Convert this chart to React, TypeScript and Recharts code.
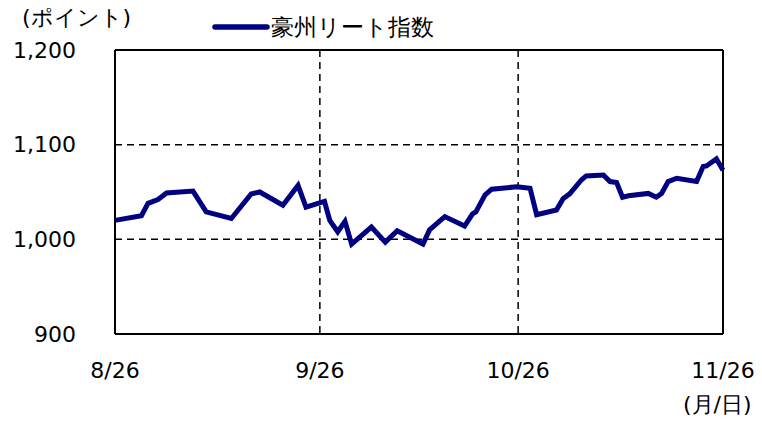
import React from 'react';
import { LineChart, Line, XAxis, YAxis, CartesianGrid, ReferenceLine } from 'recharts';

// day offset from 8/26
const dayOffsets = [0, 4, 5, 6.5, 7.8, 11.8, 13.8, 17.6, 20.6, 21.9, 25.4, 27.7, 28.9, 31.7, 32.5, 33.7, 34.8, 35.8, 38.8, 40.9, 42.7, 46.6, 47.6, 49.9, 52.9, 54.1, 54.6, 56, 57, 60.8, 62.8, 63.8, 66.8, 67.8, 68.8, 70.6, 71.3, 73.9, 74.9, 75.9, 76.8, 77.7, 80.7, 81.9, 82.7, 83.7, 85, 88, 89, 89.5, 91, 92];
const reitValues = [1020, 1025, 1038, 1042, 1049, 1051, 1029, 1022, 1048, 1050, 1036, 1057, 1034, 1040, 1020, 1008, 1019, 995, 1013, 997, 1009, 995, 1010, 1024, 1014, 1027, 1029, 1047, 1053, 1055.5, 1054, 1026, 1031, 1043, 1048, 1063, 1067, 1068, 1061, 1060, 1044.5, 1046, 1048.5, 1044.5, 1048.5, 1061, 1064.5, 1061, 1077, 1077.5, 1085, 1073];
const xTickDays = [0, 31, 61, 92];
const xTickLabels = ['8/26', '9/26', '10/26', '11/26'];
const yTicks = [900, 1000, 1100, 1200];
const seriesName = '豪州リート指数';

const data = dayOffsets.map((d, i) => ({ day: d, value: reitValues[i] }));
const font = '"DejaVu Sans", Verdana, sans-serif';

export default function App() {
  return (
    <div style={{ position: 'relative', width: 762, height: 423, margin: -8, background: '#fff' }}>
      <LineChart width={762} height={423} data={data} margin={{ top: 50, right: 39, bottom: 59, left: 0 }}>
        <CartesianGrid stroke="#000" strokeWidth={1.5} strokeDasharray="7 5" />
        <XAxis
          dataKey="day"
          type="number"
          domain={[0, 92]}
          ticks={xTickDays}
          height={30}
          tickFormatter={(v: number) => xTickLabels[xTickDays.indexOf(v)]}
          axisLine={{ stroke: '#000', strokeWidth: 2 }}
          tickLine={false}
          tickSize={0}
          tickMargin={28}
          tick={{ fill: '#000', fontSize: 22, fontFamily: font }}
        />
        <YAxis
          type="number"
          domain={[900, 1200]}
          ticks={yTicks}
          width={115}
          tickFormatter={(v: number) => v.toLocaleString('en-US')}
          axisLine={{ stroke: '#000', strokeWidth: 2 }}
          tickLine={false}
          tickSize={0}
          tickMargin={39}
          tick={{ fill: '#000', fontSize: 22, fontFamily: font }}
        />
        <ReferenceLine y={1200} stroke="#000" strokeWidth={2} />
        <ReferenceLine x={92} stroke="#000" strokeWidth={2} />
        <Line
          type="linear"
          dataKey="value"
          name={seriesName}
          stroke="#000080"
          strokeWidth={5}
          dot={false}
          isAnimationActive={false}
        />
      </LineChart>
      <div style={{ position: 'absolute', left: 212, top: 12, display: 'flex', alignItems: 'center', fontFamily: font, fontSize: 23, color: '#000', lineHeight: '30px' }}>
        <svg width={58} height={10}><line x1={3} y1={5} x2={55} y2={5} stroke="#000080" strokeWidth={5.5} strokeLinecap="round" /></svg>
        <span style={{ marginLeft: 1 }}>{seriesName}</span>
      </div>
      <div style={{ position: 'absolute', left: 22, top: 5, fontFamily: font, fontSize: 22, lineHeight: '26px', whiteSpace: 'nowrap' }}>(ポイント)</div>
      <div style={{ position: 'absolute', left: 683, top: 392, fontFamily: font, fontSize: 22, lineHeight: '26px', whiteSpace: 'nowrap' }}>(月/日)</div>
    </div>
  );
}
